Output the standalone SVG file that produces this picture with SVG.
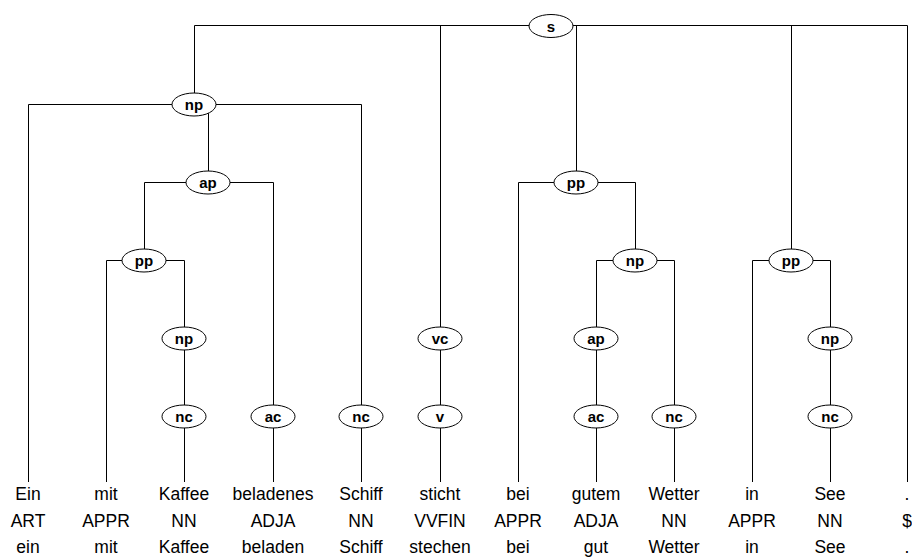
<svg xmlns="http://www.w3.org/2000/svg" width="912" height="559" viewBox="0 0 912 559">
<style>
.c{fill:none;stroke:#000;stroke-width:1}
.n ellipse{fill:#fff;stroke:#000;stroke-width:1}
.n text{font-family:"Liberation Sans",Arial,sans-serif;font-weight:bold;font-size:15px;text-anchor:middle;fill:#000}
.w text{font-family:"Liberation Sans",Arial,sans-serif;font-size:17.5px;text-anchor:middle;fill:#000}
</style>
<rect width="912" height="559" fill="#fff"/>
<g id="connectors" class="c">
<path d="M194.5,25.5H907.5M194.5,25.5V104M440.5,25.5V338M576.5,25.5V182M791.5,25.5V260M907.5,25.5V482"/>
<path d="M28.5,104.5H361.5M28.5,104.5V482M208.5,104.5V182M361.5,104.5V416"/>
<path d="M144.5,182.5H273.5M144.5,182.5V260M273.5,182.5V416"/>
<path d="M106.5,260.5H184.5M106.5,260.5V482M184.5,260.5V482"/>
<path d="M273.5,416V482M361.5,416V482M440.5,338V482"/>
<path d="M518.5,182.5H635.5M518.5,182.5V482M635.5,182.5V260"/>
<path d="M596.5,260.5H674.5M596.5,260.5V482M674.5,260.5V482"/>
<path d="M752.5,260.5H830.5M752.5,260.5V482M830.5,260.5V482"/>
</g>
<g id="s" class="n"><ellipse cx="551" cy="26" rx="22" ry="11.5"/><text x="551" y="31.5">s</text></g>
<g id="np1" class="n"><ellipse cx="194" cy="104.5" rx="22" ry="11.5"/><text x="194" y="110">np</text></g>
<g id="ap1" class="n"><ellipse cx="208" cy="182.5" rx="22" ry="11.5"/><text x="208" y="188">ap</text></g>
<g id="pp1" class="n"><ellipse cx="144" cy="260.5" rx="22" ry="11.5"/><text x="144" y="266">pp</text></g>
<g id="np2" class="n"><ellipse cx="184" cy="338.5" rx="22" ry="11.5"/><text x="184" y="344">np</text></g>
<g id="nc1" class="n"><ellipse cx="184" cy="416.5" rx="22" ry="11.5"/><text x="184" y="422">nc</text></g>
<g id="ac1" class="n"><ellipse cx="273" cy="416.5" rx="22" ry="11.5"/><text x="273" y="422">ac</text></g>
<g id="nc2" class="n"><ellipse cx="361" cy="416.5" rx="22" ry="11.5"/><text x="361" y="422">nc</text></g>
<g id="vc" class="n"><ellipse cx="440" cy="338.5" rx="22" ry="11.5"/><text x="440" y="344">vc</text></g>
<g id="v" class="n"><ellipse cx="440" cy="416.5" rx="22" ry="11.5"/><text x="440" y="422">v</text></g>
<g id="pp2" class="n"><ellipse cx="576" cy="182.5" rx="22" ry="11.5"/><text x="576" y="188">pp</text></g>
<g id="np3" class="n"><ellipse cx="635" cy="260.5" rx="22" ry="11.5"/><text x="635" y="266">np</text></g>
<g id="ap2" class="n"><ellipse cx="596" cy="338.5" rx="22" ry="11.5"/><text x="596" y="344">ap</text></g>
<g id="ac2" class="n"><ellipse cx="596" cy="416.5" rx="22" ry="11.5"/><text x="596" y="422">ac</text></g>
<g id="nc3" class="n"><ellipse cx="674" cy="416.5" rx="22" ry="11.5"/><text x="674" y="422">nc</text></g>
<g id="pp3" class="n"><ellipse cx="791" cy="260.5" rx="22" ry="11.5"/><text x="791" y="266">pp</text></g>
<g id="np4" class="n"><ellipse cx="830" cy="338.5" rx="22" ry="11.5"/><text x="830" y="344">np</text></g>
<g id="nc4" class="n"><ellipse cx="830" cy="416.5" rx="22" ry="11.5"/><text x="830" y="422">nc</text></g>
<g id="w1" class="w"><text x="28" y="500">Ein</text><text x="28" y="527">ART</text><text x="28" y="553">ein</text></g>
<g id="w2" class="w"><text x="106" y="500">mit</text><text x="106" y="527">APPR</text><text x="106" y="553">mit</text></g>
<g id="w3" class="w"><text x="184" y="500">Kaffee</text><text x="184" y="527">NN</text><text x="184" y="553">Kaffee</text></g>
<g id="w4" class="w"><text x="273" y="500">beladenes</text><text x="273" y="527">ADJA</text><text x="273" y="553">beladen</text></g>
<g id="w5" class="w"><text x="361" y="500">Schiff</text><text x="361" y="527">NN</text><text x="361" y="553">Schiff</text></g>
<g id="w6" class="w"><text x="440" y="500">sticht</text><text x="440" y="527">VVFIN</text><text x="440" y="553">stechen</text></g>
<g id="w7" class="w"><text x="518" y="500">bei</text><text x="518" y="527">APPR</text><text x="518" y="553">bei</text></g>
<g id="w8" class="w"><text x="596" y="500">gutem</text><text x="596" y="527">ADJA</text><text x="596" y="553">gut</text></g>
<g id="w9" class="w"><text x="674" y="500">Wetter</text><text x="674" y="527">NN</text><text x="674" y="553">Wetter</text></g>
<g id="w10" class="w"><text x="752" y="500">in</text><text x="752" y="527">APPR</text><text x="752" y="553">in</text></g>
<g id="w11" class="w"><text x="830" y="500">See</text><text x="830" y="527">NN</text><text x="830" y="553">See</text></g>
<g id="w12" class="w"><text x="907" y="500">.</text><text x="907" y="527">$</text><text x="907" y="553">.</text></g>
</svg>
